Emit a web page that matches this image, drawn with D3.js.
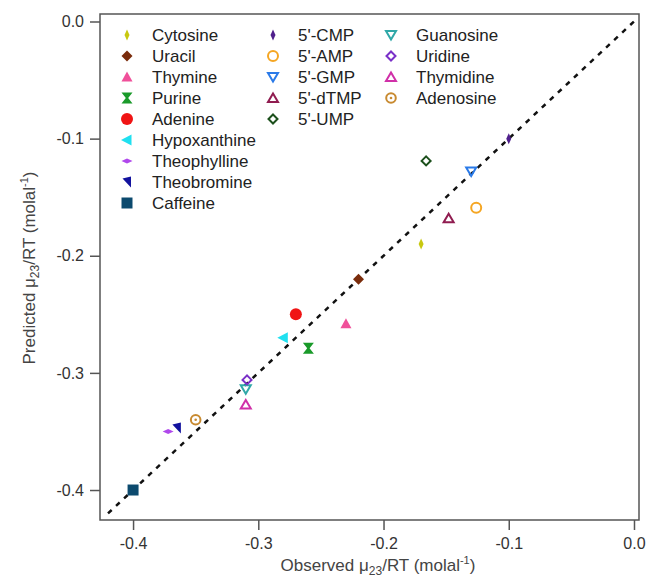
<!DOCTYPE html>
<html>
<head>
<meta charset="utf-8">
<script src="https://cdn.jsdelivr.net/npm/d3@7"></script>
<style>
  body { margin: 0; background: #fff; }
  svg { font-family: Arial, "Liberation Sans", sans-serif; }
</style>
</head>
<body>
<div id="chart"></div>
<script>
'use strict'
// data
const names = ['Cytosine', 'Uracil', 'Thymine', 'Purine', 'Adenine', 'Hypoxanthine', 'Theophylline', 'Theobromine', 'Caffeine',
    "5'-CMP", "5'-AMP", "5'-GMP", "5'-dTMP", "5'-UMP",
    'Guanosine', 'Uridine', 'Thymidine', 'Adenosine'];
const observed = [-0.17, -0.22, -0.23, -0.26, -0.27, -0.28, -0.372, -0.365, -0.40,
    -0.10, -0.126, -0.13, -0.148, -0.166,
    -0.31, -0.309, -0.31, -0.35];
const predicted = [-0.19, -0.22, -0.258, -0.279, -0.25, -0.27, -0.35, -0.347, -0.40,
    -0.10, -0.159, -0.128, -0.168, -0.119,
    -0.314, -0.306, -0.327, -0.34];
const ticks = [-0.4, -0.3, -0.2, -0.1, 0.0];

// marker style per compound
const colors = ['#c8c810', '#7a2c0c', '#f0509a', '#1a9a2a', '#f01414', '#20e0f0', '#b048ec', '#12129e', '#0c4a6e',
    '#50208c', '#f5a623', '#2a7ae8', '#901c50', '#1c501c',
    '#30a8a8', '#7a30c8', '#d030a8', '#c88a30'];
const shapes = ['thinV', 'diamond', 'triUp', 'hourglass', 'circle', 'triLeft', 'thinH', 'corner', 'square',
    'thinV', 'oCircle', 'oTriDown', 'oTriUp', 'oDiamond',
    'oTriDown', 'oDiamond', 'oTriUp', 'oCircleDot'];

const width = 647, height = 580;
const svg = d3.select('#chart').append('svg')
    .attr('width', width)
    .attr('height', height);

const x = d3.scaleLinear().domain([-0.4264, 0.004]).range([100, 639]);
const y = d3.scaleLinear().domain([-0.4256, 0.0064]).range([520, 14]);

// frame
svg.append('rect')
    .attr('x', x.range()[0]).attr('y', y.range()[1])
    .attr('width', x.range()[1] - x.range()[0])
    .attr('height', y.range()[0] - y.range()[1])
    .attr('fill', 'none')
    .attr('stroke', '#555')
    .attr('stroke-width', 1.5);

// axes
const fmt = d => d.toFixed(1);
svg.append('g')
    .attr('transform', `translate(0, ${y.range()[0]})`)
    .call(d3.axisBottom(x).tickValues(ticks).tickFormat(fmt).tickSizeInner(10).tickSizeOuter(0).tickPadding(8))
    .call(g => g.select('.domain').remove())
    .call(g => g.selectAll('line').attr('stroke', '#555').attr('stroke-width', 1.5))
    .call(g => g.selectAll('text').attr('fill', '#333').attr('font-size', 16).attr('font-family', 'Arial, sans-serif'));

svg.append('g')
    .attr('transform', `translate(${x.range()[0]}, 0)`)
    .call(d3.axisLeft(y).tickValues(ticks).tickFormat(fmt).tickSizeInner(10).tickSizeOuter(0).tickPadding(6))
    .call(g => g.select('.domain').remove())
    .call(g => g.selectAll('line').attr('stroke', '#555').attr('stroke-width', 1.5))
    .call(g => g.selectAll('text').attr('fill', '#333').attr('font-size', 16).attr('font-family', 'Arial, sans-serif'));

// axis titles
const xt = svg.append('text')
    .attr('x', 378).attr('y', 571)
    .attr('text-anchor', 'middle')
    .attr('fill', '#444').attr('font-size', 17);
xt.append('tspan').text('Observed μ');
xt.append('tspan').text('23').attr('font-size', 12).attr('dy', 4);
xt.append('tspan').text('/RT (molal').attr('dy', -4);
xt.append('tspan').text('-1').attr('font-size', 11).attr('dy', -7);
xt.append('tspan').text(')').attr('dy', 7);

const yt = svg.append('text')
    .attr('transform', 'translate(35, 268) rotate(-90)')
    .attr('text-anchor', 'middle')
    .attr('fill', '#444').attr('font-size', 17);
yt.append('tspan').text('Predicted μ');
yt.append('tspan').text('23').attr('font-size', 12).attr('dy', 4);
yt.append('tspan').text('/RT (molal').attr('dy', -4);
yt.append('tspan').text('-1').attr('font-size', 11).attr('dy', -7);
yt.append('tspan').text(')').attr('dy', 7);

// 1:1 dashed line
svg.append('line')
    .attr('x1', x(-0.42)).attr('y1', y(-0.42))
    .attr('x2', x(0)).attr('y2', y(0))
    .attr('stroke', '#111')
    .attr('stroke-width', 2.5)
    .attr('stroke-dasharray', '5,6');

// marker drawing
function drawMarker(g, shape, color) {
    const open = shape.startsWith('o');
    const fill = open ? 'none' : color;
    const sw = open ? 2 : 0;
    let p;
    switch (shape) {
        case 'thinV': p = 'M0,-5.5L2.5,0L0,5.5L-2.5,0Z'; break;
        case 'thinH': p = 'M-5.5,0L0,-2.5L5.5,0L0,2.5Z'; break;
        case 'diamond': p = 'M0,-5.5L5.5,0L0,5.5L-5.5,0Z'; break;
        case 'triUp': p = 'M0,-5.5L5.5,4.5L-5.5,4.5Z'; break;
        case 'triLeft': p = 'M-6,0L4.5,-5.5L4.5,5.5Z'; break;
        case 'hourglass': p = 'M-5.5,-5.5L5.5,-5.5L1.2,0L5.5,5.5L-5.5,5.5L-1.2,0Z'; break;
        case 'corner': p = 'M-4.5,-3.5L4,-5.5L4,5.5Z'; break;
        case 'square': p = 'M-5.5,-5.5H5.5V5.5H-5.5Z'; break;
        case 'oTriDown': p = 'M-5,-4L5,-4L0,4.5Z'; break;
        case 'oTriUp': p = 'M0,-4.5L5,4L-5,4Z'; break;
        case 'oDiamond': p = 'M0,-4.5L4.5,0L0,4.5L-4.5,0Z'; break;
    }
    if (shape === 'circle') {
        g.append('circle').attr('r', 6).attr('fill', color);
    } else if (shape === 'oCircle') {
        g.append('circle').attr('r', 5).attr('fill', 'none').attr('stroke', color).attr('stroke-width', 2);
    } else if (shape === 'oCircleDot') {
        g.append('circle').attr('r', 4.8).attr('fill', 'none').attr('stroke', color).attr('stroke-width', 2);
        g.append('circle').attr('r', 1.3).attr('fill', color);
    } else {
        g.append('path').attr('d', p).attr('fill', fill)
            .attr('stroke', open ? color : 'none').attr('stroke-width', sw)
            .attr('stroke-linejoin', 'miter');
    }
}

// points
const points = svg.append('g').attr('class', 'points');
names.forEach((n, i) => {
    const g = points.append('g').attr('transform', `translate(${x(observed[i])}, ${y(predicted[i])})`);
    drawMarker(g, shapes[i], colors[i]);
});

// legend: three columns
const legendCols = [
    { x: 127, start: 0, end: 9 },
    { x: 273, start: 9, end: 14 },
    { x: 391, start: 14, end: 18 }
];
const legend = svg.append('g').attr('class', 'legend');
legendCols.forEach(col => {
    for (let i = col.start; i < col.end; i++) {
        const row = i - col.start;
        const ly = 35 + row * 21;
        const g = legend.append('g').attr('transform', `translate(${col.x}, ${ly})`);
        drawMarker(g, shapes[i], colors[i]);
        legend.append('text')
            .attr('x', col.x + 25).attr('y', ly + 6)
            .attr('fill', '#222').attr('font-size', 17)
            .text(names[i]);
    }
});
</script>
</body>
</html>
